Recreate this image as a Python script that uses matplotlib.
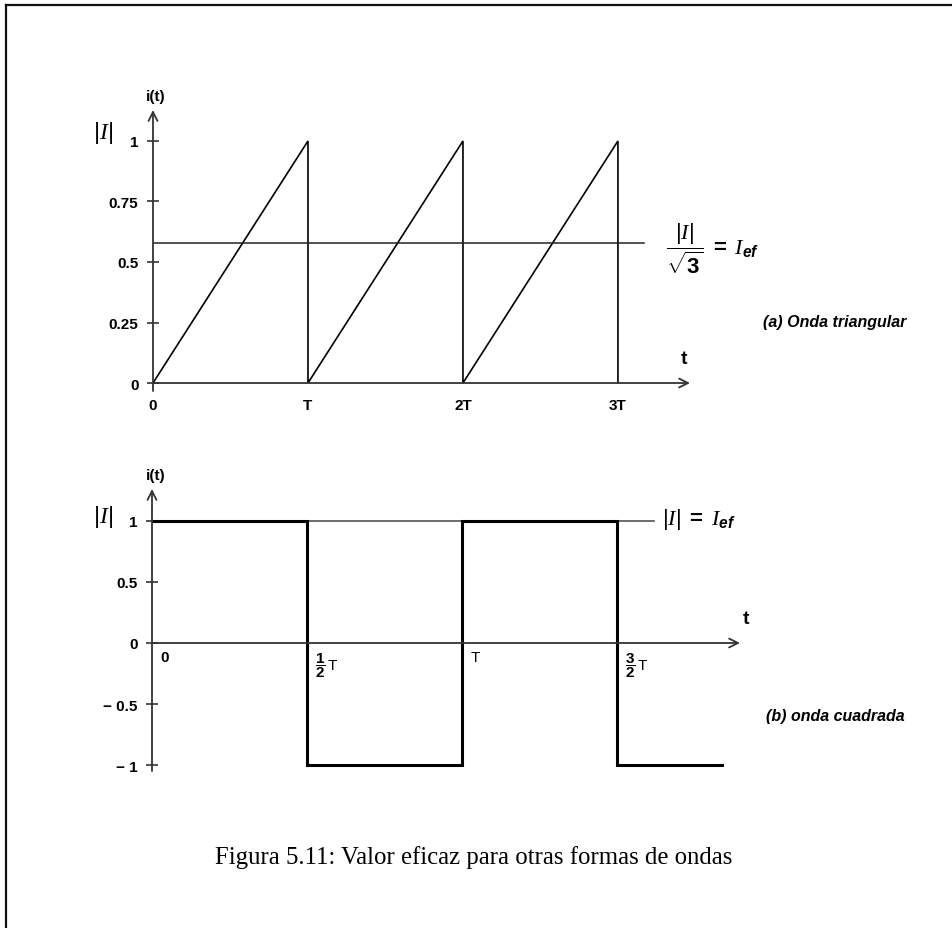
import numpy as np
import matplotlib
matplotlib.use("Agg")
import matplotlib.pyplot as plt
from matplotlib.lines import Line2D

plt.rcParams['font.family'] = ['Liberation Sans', 'DejaVu Sans']
plt.rcParams['mathtext.fontset'] = 'custom'
plt.rcParams['mathtext.rm'] = 'Liberation Sans'
plt.rcParams['mathtext.bf'] = 'Liberation Sans:bold'
plt.rcParams['mathtext.it'] = 'Liberation Serif:italic'
plt.rcParams['mathtext.bfit'] = 'Liberation Sans:italic:bold'
plt.rcParams['mathtext.sf'] = 'Liberation Sans'

# ---------------- data ----------------
tri_t = [0, 1, 1, 2, 2, 3, 3]
tri_i = [0, 1, 0, 1, 0, 1, 0]
tri_rms = 0.577
tri_rms_end = 3.17
tri_yticks = [0, 0.25, 0.5, 0.75, 1]
tri_yticklabels = ['0', '0.25', '0.5', '0.75', '1']
tri_xticks = [0, 1, 2, 3]
tri_xticklabels = ['0', 'T', '2T', '3T']

sq_t = [0, 0.5, 0.5, 1, 1, 1.5, 1.5, 1.84]
sq_i = [1, 1, -1, -1, 1, 1, -1, -1]
sq_rms = 1.0
sq_rms_end = 1.62
sq_yticks = [-1, -0.5, 0, 0.5, 1]
sq_yticklabels = ['\u2212 1', '\u2212 0.5', '0', '0.5', '1']
sq_xticks = [0, 0.5, 1, 1.5]
sq_xticklabels = [r'$\mathbf{0}$', r'$\dfrac{\mathbf{1}}{\mathbf{2}}\,\mathrm{T}$',
                  r'$\mathrm{T}$', r'$\dfrac{\mathbf{3}}{\mathbf{2}}\,\mathrm{T}$']

W, H = 953, 929
fig = plt.figure(figsize=(W / 100, H / 100), dpi=100)
fig.patch.set_facecolor('white')


def pxbox(left, top, right, bottom):
    return [left / W, 1 - bottom / H, (right - left) / W, (bottom - top) / H]


def px(x, y):
    return (x / W, 1 - y / H)


AXC = '#333333'


def setup(ax, xmax, ybot, ytop, yticks, yticklabels):
    ax.set_xlim(0, xmax)
    ax.set_ylim(ybot, ytop)
    for s in ax.spines.values():
        s.set_visible(False)
    ax.set_yticks(yticks)
    ax.set_yticklabels(yticklabels, fontweight='bold', fontsize=11)
    ax.tick_params(axis='y', direction='inout', length=9, width=1.2, color=AXC, pad=6)
    ax.patch.set_alpha(0)
    arrow = dict(arrowstyle='->', lw=1.3, color=AXC, shrinkA=0, shrinkB=0, mutation_scale=16)
    ax.annotate('', xy=(0, ytop), xytext=(0, ybot), arrowprops=arrow, annotation_clip=False)
    ax.annotate('', xy=(xmax, 0), xytext=(0, 0), arrowprops=arrow, annotation_clip=False)


# ---------------- top: triangular ----------------
ax1 = fig.add_axes(pxbox(153, 111, 690, 392))
setup(ax1, 3.465, -0.033, 1.128, tri_yticks, tri_yticklabels)
ax1.plot(tri_t, tri_i, color='black', lw=1.2, solid_joinstyle='miter')
ax1.plot([0, tri_rms_end], [tri_rms, tri_rms], color='#222222', lw=1.1)
ax1.set_xticks(tri_xticks)
ax1.set_xticklabels(tri_xticklabels, fontweight='bold', fontsize=11)
ax1.tick_params(axis='x', length=0, pad=5)

# ---------------- bottom: square ----------------
ax2 = fig.add_axes(pxbox(152, 490, 740, 772))
setup(ax2, 1.897, -1.049, 1.262, sq_yticks, sq_yticklabels)
ax2.plot([0, sq_rms_end], [sq_rms, sq_rms], color='#444444', lw=1.1)
ax2.plot(sq_t, sq_i, color='black', lw=2.2, solid_joinstyle='miter')
ax2.set_xticks([])
for xv, lab in zip(sq_xticks, sq_xticklabels):
    ax2.annotate(lab, xy=(xv, 0), xytext=(6, -5), textcoords='offset points',
                 ha='left', va='top', fontsize=11, annotation_clip=False)

# ---------------- labels ----------------
fig.text(*px(156, 97), 'i(t)', ha='center', va='center', fontsize=11, fontweight='bold')
fig.text(*px(156, 476), 'i(t)', ha='center', va='center', fontsize=11, fontweight='bold')
fig.text(*px(103, 133), r'$|I|$', ha='center', va='center', fontsize=17)
fig.text(*px(103, 517), r'$|I|$', ha='center', va='center', fontsize=17)
fig.text(*px(684, 360), 't', ha='center', va='center', fontsize=14, fontweight='bold')
fig.text(*px(746, 620), 't', ha='center', va='center', fontsize=14, fontweight='bold')

fig.text(*px(666, 249), r'$\dfrac{|I|}{\sqrt{\mathbf{3}}}\ \mathbf{=}\ I_{\mathbfit{ef}}$',
         ha='left', va='center', fontsize=16)
fig.text(*px(662, 520), r'$|I|\ \mathbf{=}\ I_{\mathbfit{ef}}$',
         ha='left', va='center', fontsize=16)

fig.text(*px(835, 323), '(a) Onda triangular', ha='center', va='center',
         fontsize=11.5, fontweight='bold', fontstyle='italic')
fig.text(*px(835, 717), '(b) onda cuadrada', ha='center', va='center',
         fontsize=11.5, fontweight='bold', fontstyle='italic')

fig.text(*px(474, 858), 'Figura 5.11: Valor eficaz para otras formas de ondas',
         ha='center', va='center', fontsize=17.8, family='Liberation Serif')

# frame
fig.add_artist(Line2D([6 / W, 6 / W], [0, 1 - 6 / H], transform=fig.transFigure,
                      color='#111111', lw=1.6))
fig.add_artist(Line2D([6 / W, 1], [1 - 6 / H, 1 - 6 / H], transform=fig.transFigure,
                      color='#111111', lw=1.6))

fig.savefig('out.png', dpi=100, facecolor='white')
